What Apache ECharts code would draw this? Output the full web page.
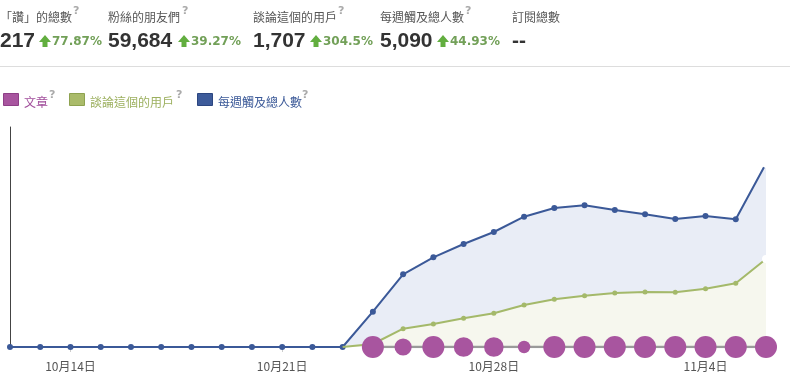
<!DOCTYPE html>
<html><head><meta charset="utf-8">
<script src="https://cdn.jsdelivr.net/npm/echarts@6/dist/echarts.min.js"></script>
<style>html,body{margin:0;padding:0;background:#fff}#c{width:801px;height:383px}</style>
</head><body><div id="c"></div>
<script>
// ---- data ----
const dates = ["10月12日","10月13日","10月14日","10月15日","10月16日","10月17日","10月18日","10月19日","10月20日","10月21日","10月22日","10月23日","10月24日","10月25日","10月26日","10月27日","10月28日","10月29日","10月30日","10月31日","11月1日","11月2日","11月3日","11月4日","11月5日","11月6日"];
const reach = [0,0,0,0,0,0,0,0,0,0,0,0,980,2016,2487,2856,3189,3613,3854,3929,3799,3680,3549,3632,3541,5090];
const talking = [null,null,null,null,null,null,null,null,null,null,null,0,83,507,638,796,934,1165,1323,1423,1497,1525,1517,1617,1766,2440];
const articles = [null,null,null,null,null,null,null,null,null,null,null,null,5,3,5,4,4,1,5,5,5,5,5,5,5,5];
const legendNames = ["文章","談論這個的用戶","每週觸及總人數"];
const statLabels = ["「讚」的總數","粉絲的朋友們","談論這個的用戶","每週觸及總人數","訂閱總數"];
const statValues = ["217","59,684","1,707","5,090","--"];
const statChanges = ["77.87%","39.27%","304.5%","44.93%"];

// ---- styles ----
const BLUE = '#3b5998', GREEN = '#a4b96a', PURPLE = '#a8559f', GRAY = '#9a9a9a';
const statX = [0,108,253,380,512];
const qX = [73,182,338,465];
const arrowX = [39,178,310,437];
const pctX = [52,191,323,450];

const graphics = [];
statLabels.forEach((t,i)=>{
  graphics.push({type:'text', style:{text:t, x:statX[i], y:17, font:'12px "Noto Sans CJK TC"', fill:'#555', verticalAlign:'middle'}});
  if(i<4) graphics.push({type:'text', style:{text:'?', x:qX[i], y:11, font:'bold 11px "DejaVu Sans"', fill:'#aaa', verticalAlign:'middle'}});
});
statValues.forEach((t,i)=>{
  graphics.push({type:'text', style:{text:t, x:statX[i], y:41, font:'bold 21px "Liberation Sans"', fill:'#333', verticalAlign:'middle'}});
});
statChanges.forEach((t,i)=>{
  const a = arrowX[i];
  graphics.push({type:'polygon', shape:{points:[[a,42],[a+6,35],[a+12,42],[a+8.5,42],[a+8.5,47],[a+3.5,47],[a+3.5,42]]}, style:{fill:'#62ae3f'}});
  graphics.push({type:'text', style:{text:t, x:pctX[i], y:42, font:'bold 12px "DejaVu Sans"', fill:'#72a058', verticalAlign:'middle'}});
});
graphics.push({type:'line', shape:{x1:0,y1:66.5,x2:790,y2:66.5}, style:{stroke:'#ddd', lineWidth:1}});
// legend
const legSq = [3,69,197], legTx=[24,90,218], legQ=[49,176,302];
const legFill=[PURPLE,'#aabb6a','#3d5b9a'], legBorder=['#8e3f87','#8ea250','#2c4680'], legText=['#a24f9c','#9cb05f','#3b5998'];
legendNames.forEach((n,i)=>{
  graphics.push({type:'rect', shape:{x:legSq[i]+0.5,y:93.5,width:15,height:12}, style:{fill:legFill[i], stroke:legBorder[i], lineWidth:1}});
  graphics.push({type:'text', style:{text:n, x:legTx[i], y:102, font:'12px "Noto Sans CJK TC"', fill:legText[i], verticalAlign:'middle'}});
  graphics.push({type:'text', style:{text:'?', x:legQ[i], y:95, font:'bold 11px "DejaVu Sans"', fill:'#aaa', verticalAlign:'middle'}});
});

const chart = echarts.init(document.getElementById('c'), null, {renderer:'canvas'});
const tickIdx = (i)=> i % 7 === 2;
const styled = (arr, color, size) => arr.map((v,i)=> {
  if (i===arr.length-1) return {value:v, symbol:'emptyCircle', symbolSize:size, itemStyle:{borderWidth:2, color:'#fff', borderColor:color}};
  if (v!=null && (i===0 || arr[i-1]==null) && i>0) return {value:v, symbol:'none'};
  return v;
});
chart.setOption({
  animation:false,
  graphic: graphics,
  grid:{left:10, right:35, top:127, bottom:36},
  xAxis:{type:'category', data:dates, boundaryGap:false,
    axisLine:{show:false},
    axisTick:{show:true, interval:(i)=>tickIdx(i), length:5, lineStyle:{color:'#ccc'}},
    axisLabel:{interval:(i)=>tickIdx(i), margin:13, color:'#555', fontSize:12, fontFamily:'Noto Sans CJK TC'},
    splitLine:{show:false}},
  yAxis:{type:'value', min:0, max:6100, axisLine:{show:true, lineStyle:{color:'#444', width:1}},
    axisTick:{show:false}, axisLabel:{show:false}, splitLine:{show:false}},
  series:[
    {name:legendNames[2], type:'line', data:styled(reach, BLUE, 7), z:2,
      lineStyle:{color:BLUE, width:2}, itemStyle:{color:BLUE}, symbol:'circle', symbolSize:6, showAllSymbol:true,
      areaStyle:{color:'#e9edf6', opacity:1}},
    {name:legendNames[1], type:'line', data:styled(talking, GREEN, 6), z:3,
      lineStyle:{color:GREEN, width:2}, itemStyle:{color:GREEN}, symbol:'circle', symbolSize:5, showAllSymbol:true,
      areaStyle:{color:'#f6f7ee', opacity:1}},
    {name:'articleLine', type:'line', data:articles.map(v=>v==null?null:0), z:4,
      lineStyle:{color:GRAY, width:2.5}, symbol:'none'},
    {name:legendNames[0], type:'scatter', data:articles.map(v=>v==null?null:0), z:5,
      symbolSize:(v,p)=> 10 + 2.4*articles[p.dataIndex],
      itemStyle:{color:PURPLE, opacity:1}}
  ]
});
</script></body></html>
